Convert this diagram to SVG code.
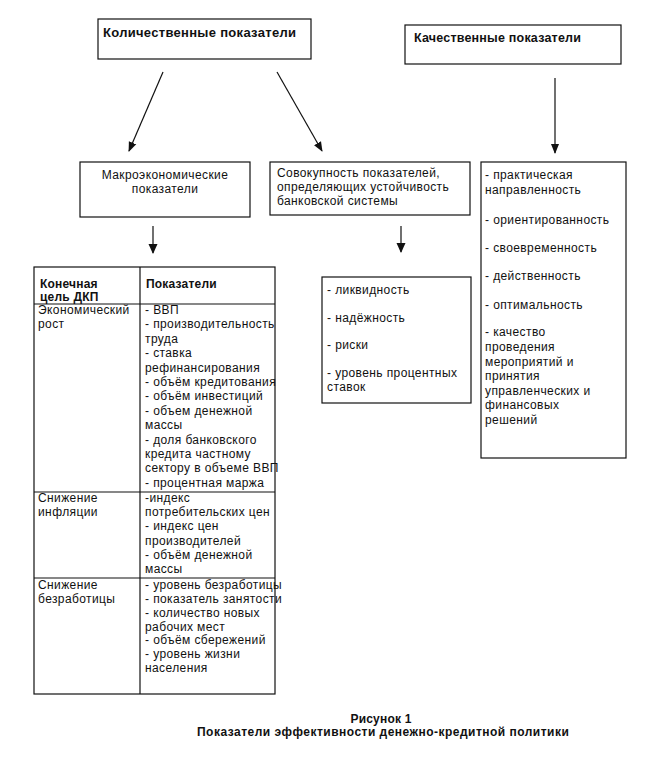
<svg xmlns="http://www.w3.org/2000/svg" width="653" height="766" viewBox="0 0 653 766">
<style>
text{font-family:"Liberation Sans",Arial,sans-serif;font-size:12px;fill:#111;letter-spacing:0.4px}
.b{font-weight:bold;letter-spacing:0.2px}
.box{fill:#fff;stroke:#111;stroke-width:1.2}
.ln{stroke:#111;stroke-width:1.2;fill:none}
.c{text-anchor:middle}
</style>
<defs>
<marker id="ah" markerUnits="userSpaceOnUse" markerWidth="10" markerHeight="10" viewBox="0 0 10 10" refX="9" refY="5" orient="auto"><path d="M0,1 L10,5 L0,9 Z" fill="#111"/></marker>
<marker id="ahb" markerUnits="userSpaceOnUse" markerWidth="10" markerHeight="10" viewBox="0 0 10 10" refX="9" refY="5" orient="auto"><path d="M0,0.5 L10,5 L0,9.5 Z" fill="#111"/></marker>
</defs>
<rect width="653" height="766" fill="#fff"/>
<g id="connectors">
<line class="ln" x1="163" y1="72" x2="129" y2="151" marker-end="url(#ah)"/>
<line class="ln" x1="277" y1="72" x2="322" y2="151" marker-end="url(#ah)"/>
<line class="ln" x1="555" y1="78" x2="555" y2="153" stroke-width="1.5" marker-end="url(#ah)"/>
<line class="ln" x1="153" y1="226" x2="153" y2="253" stroke-width="2.2" marker-end="url(#ahb)"/>
<line class="ln" x1="401" y1="226" x2="401" y2="252" stroke-width="2.2" marker-end="url(#ahb)"/>
</g>
<g id="quant">
<rect class="box" x="98" y="19" width="213" height="40"/>
<text class="b" x="103" y="37" style="font-size:13px;letter-spacing:0.3px">Количественные показатели</text>
</g>
<g id="qual">
<rect class="box" x="405" y="25" width="216" height="39"/>
<text class="b" x="414" y="42" style="font-size:12.5px">Качественные показатели</text>
</g>
<g id="macro">
<rect class="box" x="80" y="162" width="170" height="55"/>
<text class="c" x="165" y="179">Макроэкономические</text>
<text class="c" x="165" y="193">показатели</text>
</g>
<g id="bank">
<rect class="box" x="270" y="162" width="200" height="53"/>
<text x="277" y="177">Совокупность показателей,</text>
<text x="277" y="191">определяющих устойчивость</text>
<text x="277" y="205">банковской системы</text>
</g>
<g id="qual-list">
<rect class="box" x="481" y="162" width="145" height="296"/>
<text x="485" y="179">- практическая</text>
<text x="485" y="194">направленность</text>
<text x="485" y="224">- ориентированность</text>
<text x="485" y="252">- своевременность</text>
<text x="485" y="280">- действенность</text>
<text x="485" y="309">- оптимальность</text>
<text x="485" y="336">- качество</text>
<text x="485" y="351">проведения</text>
<text x="485" y="366">мероприятий и</text>
<text x="485" y="380">принятия</text>
<text x="485" y="395">управленческих и</text>
<text x="485" y="409">финансовых</text>
<text x="485" y="424">решений</text>
</g>
<g id="bank-list">
<rect class="box" x="322" y="277" width="149" height="126"/>
<text x="327" y="294">- ликвидность</text>
<text x="327" y="322">- надёжность</text>
<text x="327" y="349">- риски</text>
<text x="327" y="377">- уровень процентных</text>
<text x="327" y="391">ставок</text>
</g>
<g id="table">
<rect class="box" x="34" y="267" width="241" height="427"/>
<line class="ln" x1="140" y1="267" x2="140" y2="694"/>
<line class="ln" x1="34" y1="304" x2="275" y2="304"/>
<line class="ln" x1="34" y1="492" x2="275" y2="492"/>
<line class="ln" x1="34" y1="578" x2="275" y2="578"/>
<text class="b" x="40" y="288">Конечная</text>
<text class="b" x="40" y="301">цель ДКП</text>
<text class="b" x="146" y="288">Показатели</text>
<text x="38" y="314">Экономический</text>
<text x="38" y="328">рост</text>
<text x="145" y="314">- ВВП</text>
<text x="145" y="328.4">- производительность</text>
<text x="145" y="342.8">труда</text>
<text x="145" y="357.2">- ставка</text>
<text x="145" y="371.6">рефинансирования</text>
<text x="145" y="386">- объём кредитования</text>
<text x="145" y="400.4">- объём инвестиций</text>
<text x="145" y="414.8">- объем денежной</text>
<text x="145" y="429.2">массы</text>
<text x="145" y="443.6">- доля банковского</text>
<text x="145" y="458">кредита частному</text>
<text x="145" y="472.4">сектору в объеме ВВП</text>
<text x="145" y="486.8">- процентная маржа</text>
<text x="38" y="502">Снижение</text>
<text x="38" y="516">инфляции</text>
<text x="145" y="502">-индекс</text>
<text x="145" y="516">потребительских цен</text>
<text x="145" y="530">- индекс цен</text>
<text x="145" y="544.5">производителей</text>
<text x="145" y="559">- объём денежной</text>
<text x="145" y="573">массы</text>
<text x="38" y="589">Снижение</text>
<text x="38" y="603">безработицы</text>
<text x="145" y="589">- уровень безработицы</text>
<text x="145" y="603">- показатель занятости</text>
<text x="145" y="617">- количество новых</text>
<text x="145" y="630.5">рабочих мест</text>
<text x="145" y="644">- объём сбережений</text>
<text x="145" y="658">- уровень жизни</text>
<text x="145" y="671.5">населения</text>
</g>
<g id="caption">
<text class="b c" x="381" y="723">Рисунок 1</text>
<text class="b c" x="383" y="736" textLength="372" lengthAdjust="spacing">Показатели эффективности денежно-кредитной политики</text>
</g>
</svg>
